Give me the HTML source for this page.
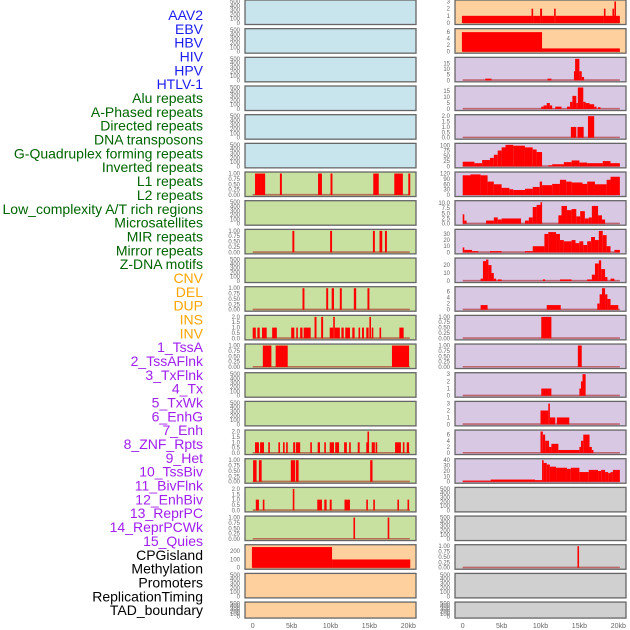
<!DOCTYPE html>
<html><head><meta charset="utf-8"><style>
html,body{margin:0;padding:0;background:#fff}
svg{display:block;font-family:"Liberation Sans",sans-serif}
</style></head><body>
<svg id="chart" width="630" height="630" viewBox="0 0 630 630"></svg>
<script>
// ---- labels ----
const trackLabels = ["AAV2","EBV","HBV","HIV","HPV","HTLV-1","Alu repeats","A-Phased repeats","Directed repeats","DNA transposons","G-Quadruplex forming repeats","Inverted repeats","L1 repeats","L2 repeats","Low_complexity A/T rich regions","Microsatellites","MIR repeats","Mirror repeats","Z-DNA motifs","CNV","DEL","DUP","INS","INV","1_TssA","2_TssAFlnk","3_TxFlnk","4_Tx","5_TxWk","6_EnhG","7_Enh","8_ZNF_Rpts","9_Het","10_TssBiv","11_BivFlnk","12_EnhBiv","13_ReprPC","14_ReprPCWk","15_Quies","CPGisland","Methylation","Promoters","ReplicationTiming","TAD_boundary"];
const labelColors = ["#1c1cf0","#1c1cf0","#1c1cf0","#1c1cf0","#1c1cf0","#1c1cf0","#006400","#006400","#006400","#006400","#006400","#006400","#006400","#006400","#006400","#006400","#006400","#006400","#006400","#ffa500","#ffa500","#ffa500","#ffa500","#ffa500","#a020f0","#a020f0","#a020f0","#a020f0","#a020f0","#a020f0","#a020f0","#a020f0","#a020f0","#a020f0","#a020f0","#a020f0","#a020f0","#a020f0","#a020f0","#000","#000","#000","#000","#000"];
const xTicks = [0,5,10,15,20];
const xTickLabels = ["0","5kb","10kb","15kb","20kb"];

// ---- segment data: [startKb, endKb, value] ----
const segAlu = [[0.3,1.0,1],[1.0,1.6,1],[3.5,3.75,1],[8.4,8.9,1],[10.0,10.25,1],[15.5,16.2,1],[18.2,19.3,1],[20.0,20.25,1]];
const segDirected = [[5.1,5.35,1],[9.95,10.2,1],[15.45,15.7,1],[16.3,16.65,1],[17.0,17.25,1]];
const segGQuad = [[6.4,6.65,1],[9.45,9.7,1],[10.15,10.45,1],[11.2,11.45,1],[13.0,13.3,1],[14.75,15.0,1]];
const segInverted = [[0,0.4,1],[0.6,0.9,1],[1.2,1.8,1],[2.5,3.1,1],[4.95,5.35,1],[5.6,5.8,1],[6.1,6.4,1],[6.55,7.45,1],[7.95,8.2,2],[8.8,9.05,2],[9.9,10.35,1],[10.35,10.55,2],[10.55,11.2,1],[11.4,11.7,1],[11.9,12.5,1],[12.8,13.1,1],[13.6,13.8,1],[14.05,14.3,1],[14.6,14.9,1],[15.0,15.2,2],[15.3,15.5,1],[16.3,16.45,1],[18.85,19.4,1]];
const segL1 = [[1.3,2.4,1],[2.95,4.5,1],[17.9,20.1,1]];
const segMicro = [[0.3,0.8,1],[0.95,1.45,1],[2.0,2.2,1],[3.3,3.5,1],[3.9,4.1,1],[4.3,4.5,1],[5.2,5.45,1],[5.55,6.1,1],[7.4,7.6,1],[8.35,8.65,1],[9.2,9.4,1],[9.9,10.45,1],[10.6,11.1,1],[11.75,12.1,1],[12.4,12.6,1],[13.5,13.75,1],[14.6,14.75,1],[14.75,14.9,2],[15.3,15.7,1],[15.8,16.0,1],[18.3,19.05,1],[19.3,19.45,1],[19.8,20.1,1]];
const segMIR = [[0.05,0.5,1],[0.8,1.15,1],[4.9,5.45,1],[5.55,5.9,1],[15.1,15.4,1]];
const segMirror = [[0.4,0.8,1],[1.3,1.5,1],[5.15,5.35,2],[8.3,8.9,1],[9.2,9.5,1],[9.9,10.15,1],[11.8,12.5,1],[14.6,14.8,1],[15.5,15.7,1],[18.6,18.8,1],[19.9,20.1,1]];
const segZDNA = [[12.95,13.15,1],[17.35,17.55,1]];
const segCNV = [[-0.1,10.2,250],[10.2,20.25,100]];
const segINS = [[-0.1,8.85,1],[8.85,9.05,2],[9.05,9.95,1],[9.95,10.2,2],[10.2,11.75,1],[11.75,11.95,2],[11.95,18.15,1],[18.15,18.35,2],[18.35,19.25,1],[19.25,19.4,2],[19.4,19.5,1],[19.5,19.65,3],[19.65,20.2,1]];
const segINV = [[-0.1,10.2,6],[10.2,20.2,1]];
const segTssA = [[2.9,3.7,1.5],[10.9,11.4,1.5],[14.3,14.45,8],[14.45,15.0,19],[15.0,15.3,8],[15.3,15.6,3]];
const segTssAFlnk = [[10.1,10.4,2],[10.4,10.8,3],[10.8,11.2,5],[11.2,11.5,3],[11.9,12.7,2],[13.4,13.8,2],[13.8,14.1,6],[14.1,14.6,11],[14.6,14.8,5],[14.8,15.5,18],[15.5,15.8,6],[15.8,16.3,5],[16.3,16.9,4],[16.9,17.2,2],[17.4,17.7,1.5]];
const segTxFlnk = [[13.9,14.6,1],[14.75,15.55,1],[16.1,16.9,2]];
const segTx = [[0,1.5,22],[1.5,2.5,15],[2.5,3.5,30],[3.5,4,40],[4,4.5,55],[4.5,5,75],[5,5.5,90],[5.5,6.5,102],[6.5,8,98],[8,9,90],[9,9.5,80],[9.5,10.2,68],[11,11.5,5],[11.5,13,10],[13,14,20],[14,15,28],[15,16,18],[16,18,15],[18,19,25],[19,20.2,15]];
const segTxWk = [[0,1,110],[1,2.3,115],[2.3,3.2,110],[3.2,4,75],[4,5,60],[5,6,40],[6,6.5,32],[6.5,8,28],[8,9,35],[9,9.9,45],[9.9,10.2,75],[10.2,11.5,55],[11.5,12.5,62],[12.5,13.3,85],[13.3,14,75],[14,15.4,70],[15.4,16,62],[16,17,75],[17,18.5,60],[18.5,19,85],[19,20.2,102]];
const segEnhG = [[0,0.2,4.5],[0.2,0.5,1.5],[3,4,1.5],[4,4.5,3],[4.5,5,2],[5,5.5,2.5],[5.5,7.5,2.5],[8,8.5,1.5],[8.5,9,3],[9,9.5,8],[9.5,10,9],[10,10.2,10.3],[12.3,12.7,4],[12.7,13.4,8.5],[13.4,14.0,6.5],[14.0,14.6,7],[14.6,15.1,3.5],[15.1,15.7,6],[15.7,16.2,2.5],[16.2,16.6,3],[16.6,17.4,8.5],[17.4,17.9,4],[17.9,18.3,2]];
const segEnh = [[0,0.2,8],[0.2,1.2,4],[1.2,2,2],[3.5,5,2],[8,9,2],[9,10.5,10],[10.5,11,30],[11,12,33],[12,12.5,30],[12.5,13,20],[13,14,18],[14,14.5,20],[14.5,15,15],[15,15.5,18],[15.5,16,12],[16,16.5,18],[16.5,17,25],[17,17.5,20],[17.5,18,35],[18,18.5,28],[18.5,19,10],[19.5,20.2,4]];
const segZNF = [[2.3,2.6,3],[2.6,3.0,25],[3.0,3.3,27],[3.3,3.7,20],[3.7,4.0,10],[4.0,4.3,3],[4.5,5,2],[10.3,10.6,2],[12.5,14,2],[16,16.6,2],[16.6,17,8],[17,17.5,22],[17.5,17.8,26],[17.8,18.3,15],[18.3,18.6,5],[19.0,19.5,3]];
const segHet = [[2.3,3.2,1.5],[10.8,12.6,1.5],[17.3,17.6,2],[17.6,17.9,5],[17.9,18.3,7],[18.3,18.6,5],[18.6,19,3.5],[19,20,1.5]];
const segTssBiv = [[10.1,11.4,1]];
const segBivFlnk = [[14.8,15.3,1]];
const segEnhBiv = [[10.1,11.4,1],[15.0,15.2,1],[15.2,15.4,2],[15.4,15.8,3]];
const segReprPC = [[10,11.0,2],[11.0,11.2,3],[11.2,11.9,1],[12.1,13.7,1]];
const segReprPCWk = [[10,10.3,7],[10.3,10.6,6],[10.6,11.1,4],[11.1,11.4,2],[11.4,12.3,3],[12.3,15.0,1],[15.0,15.2,2],[15.2,15.5,4],[15.5,16.3,6],[16.3,16.6,2],[16.6,16.8,1]];
const segQuies = [[0,3.6,2],[3.6,9.3,4],[9.3,10.2,3],[10.2,10.4,40],[10.4,10.8,35],[10.8,11.2,32],[11.2,12,28],[12,13.4,26],[13.4,13.9,24],[13.9,15,26],[15,16.2,18],[16.2,17.4,22],[17.4,17.8,20],[17.8,18.3,22],[18.3,18.7,18],[18.7,19,16],[19,19.3,18],[19.3,20.2,22]];
const segPromoters = [[14.75,14.95,1]];

// ---- tick sets ----
const ticksEmpty = [0,100,200,300,400,500];
const ticksUnit = [0,0.25,0.5,0.75,1];
const ticksTwo = [0,0.5,1,1.5,2];

const W = 630;
const svg = document.getElementById('chart');
const NS = 'http://www.w3.org/2000/svg';
function mk(tag, attrs){ const e=document.createElementNS(NS,tag); for(const k in attrs) e.setAttribute(k,attrs[k]); svg.appendChild(e); return e; }

// labels
trackLabels.forEach((t,i)=>{
  const e = mk('text',{x:203,y:15+i*13.84+5,'text-anchor':'end','font-size':'14',fill:labelColors[i]});
  e.textContent = t;
  
  
});

const cols = [{x0:245,x1:416,z:252.7},{x0:455,x1:626,z:462.7}];
const KB = 7.78;
const fills = {b:'#c8e4ec',g:'#c8e0a0',o:'#fed09e',p:'#d8c8e4',y:'#d0d0d0'};
function fmt(v,d){ return d==null? String(v) : v.toFixed(d); }

const leftRows = [
 ['b',null,ticksEmpty,500,null],['b',null,ticksEmpty,500,null],['b',null,ticksEmpty,500,null],['b',null,ticksEmpty,500,null],['b',null,ticksEmpty,500,null],['b',null,ticksEmpty,500,null],
 ['g',segAlu,ticksUnit,1,2],['g',null,ticksEmpty,500,null],['g',segDirected,ticksUnit,1,2],['g',null,ticksEmpty,500,null],['g',segGQuad,ticksUnit,1,2],['g',segInverted,ticksTwo,2,1],['g',segL1,ticksUnit,1,2],['g',null,ticksEmpty,500,null],['g',null,ticksEmpty,500,null],['g',segMicro,ticksTwo,2,1],['g',segMIR,ticksUnit,1,2],['g',segMirror,ticksTwo,2,1],['g',segZDNA,ticksUnit,1,2],
 ['o',segCNV,[0,100,200],260,null],['o',null,ticksEmpty,500,null],['o',null,ticksEmpty,500,null]
];
const rightRows = [
 ['o',segINS,[0,1,2,3],3,null],['o',segINV,[0,2,4,6],6.6,null],
 ['p',segTssA,[0,5,10,15],19,null],['p',segTssAFlnk,[0,5,10,15],18,null],['p',segTxFlnk,ticksTwo,2,1],['p',segTx,[0,25,50,75,100],102,null],['p',segTxWk,[0,30,60,90,120],120,null],['p',segEnhG,[0,2.5,5,7.5,10],10.3,1],['p',segEnh,[0,10,20,30],35,null],['p',segZNF,[0,10,20],27,null],['p',segHet,[0,2,4,6],7,null],['p',segTssBiv,ticksUnit,1,2],['p',segBivFlnk,ticksUnit,1,2],['p',segEnhBiv,[0,1,2,3],3,null],['p',segReprPC,[0,1,2,3],3.1,null],['p',segReprPCWk,[0,2,4,6],7,null],['p',segQuies,[0,10,20,30,40],40,null],
 ['y',null,ticksEmpty,500,null],['y',null,ticksEmpty,500,null],['y',segPromoters,ticksUnit,1,2],['y',null,ticksEmpty,500,null],['y',null,ticksEmpty,500,null]
];

[leftRows,rightRows].forEach((rows,ci)=>{
  const c = cols[ci];
  rows.forEach((r,i)=>{
    const top = i*28.67;
    const h = (i===21)? 16 : 24.5;
    const bot = top+h;
    const [col,seg,ticks,ymax,dec] = r;
    const bg = mk('rect',{x:c.x0,y:top,width:c.x1-c.x0,height:h,fill:fills[col],stroke:'#666','stroke-width':1.3});
    
    
    const y0 = bot-1.5, y1 = top+1.5;
    const ys = v => y0 - (v/ymax)*(y0-y1);
    const xs = kb => c.z + kb*KB;
    ticks.forEach(t=>{
      const tl = mk('text',{x:c.x0-5,y:ys(t)+2,'text-anchor':'end','font-size':'6',fill:'#666'});
      tl.textContent = fmt(t,dec);
      
      
    });
    if(seg){
      const bl = mk('line',{x1:xs(0),x2:xs(20.2),y1:y0-0.3,y2:y0-0.3,stroke:'rgba(170,20,20,0.55)','stroke-width':1.6});
      
      
      seg.forEach(s=>{
        const xa = xs(s[0]), xb = Math.max(xs(s[1]), xa+1.6);
        const yt = Math.max(ys(s[2]), top+0.8);
        const b = mk('rect',{x:xa,y:yt,width:xb-xa,height:y0-yt,fill:'#ff0000'});
        
        
      });
    }
  });
  xTicks.forEach((t,k)=>{
    const tx = mk('text',{x:c.z+t*KB,y:628,'text-anchor':'middle','font-size':'7',fill:'#666'});
    tx.textContent = xTickLabels[k];
    
    
  });
});
</script>
</body></html>
